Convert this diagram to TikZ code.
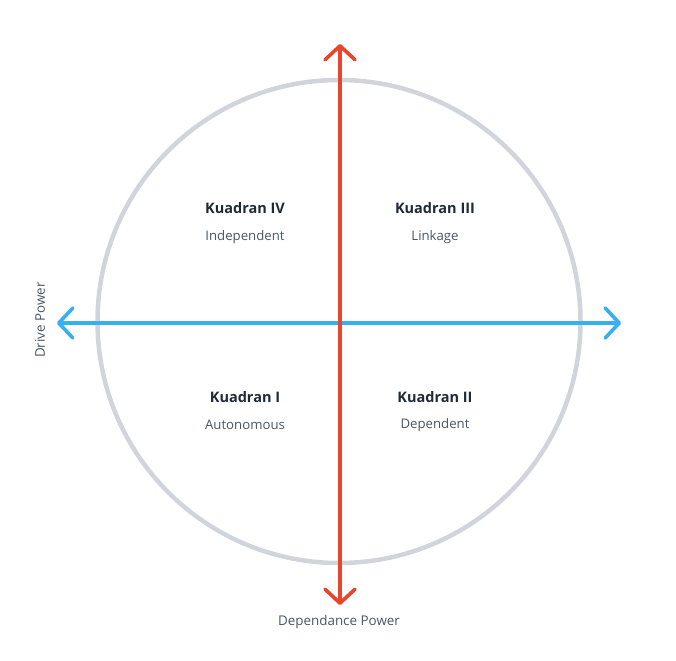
\documentclass[tikz,border=0pt]{standalone}
\usepackage{fontspec}
\setmainfont{Open Sans}
\usetikzlibrary{arrows.meta}
\definecolor{ringgray}{HTML}{D1D5DB}
\definecolor{axisred}{HTML}{E8452C}
\definecolor{axisblue}{HTML}{38AFEF}
\definecolor{titleink}{HTML}{1F2937}
\definecolor{subink}{HTML}{4B5563}
\begin{document}
\begin{tikzpicture}[x=1pt,y=-1pt,
  chev/.tip={Straight Barb[length=14pt,width=30pt,line cap=round,line join=round]},
  axis/.style={line width=3.6pt,line cap=round,chev-chev},
  qtitle/.style={font=\fontsize{14.5}{16}\selectfont\bfseries,text=titleink,inner sep=0pt},
  qsub/.style={font=\fontsize{13.2}{15}\selectfont,text=subink,inner sep=0pt},
  axlabel/.style={font=\fontsize{13.4}{15}\selectfont,text=subink,inner sep=0pt}]
  \useasboundingbox (0,0) rectangle (676,660);
  % ring
  \node[draw=ringgray,line width=4.5pt,circle,minimum size=483pt,inner sep=0pt] (ring) at (339,321.5) {};
  % axis end points
  \coordinate (top) at (340,44);
  \coordinate (bot) at (340,605);
  \coordinate (lft) at (57,323);
  \coordinate (rgt) at (621,323);
  \draw[axis,draw=axisblue] (lft) -- (rgt);
  \draw[axis,draw=axisred] (top) -- (bot);
  % quadrant labels
  \node[qtitle] (q4) at (245,208) {Kuadran IV};
  \node[qsub]   (q4s) at (245,237) {Independent};
  \node[qtitle] (q3) at (435,208) {Kuadran III};
  \node[qsub]   (q3s) at (435,237) {Linkage};
  \node[qtitle] (q1) at (245,397) {Kuadran I};
  \node[qsub]   (q1s) at (245,425) {Autonomous};
  \node[qtitle] (q2) at (435,397) {Kuadran II};
  \node[qsub]   (q2s) at (435,425) {Dependent};
  % axis captions
  \node[axlabel] (dep) at (339,622) {Dependance Power};
  \node[axlabel,rotate=90] (drv) at (40,320) {Drive Power};
\end{tikzpicture}
\end{document}
